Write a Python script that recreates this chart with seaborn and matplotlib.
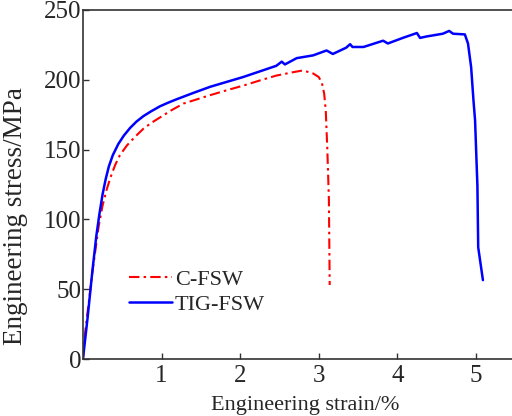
import pandas as pd
import matplotlib
matplotlib.use("Agg")
import matplotlib.pyplot as plt
import seaborn as sns

# C-FSW curve (strain %, stress MPa)
cfsw_strain = [0, 0.03, 0.12, 0.20, 0.25, 0.30, 0.35, 0.41, 0.47, 0.56, 0.66, 0.77, 0.88, 0.98,
               1.12, 1.28, 1.45, 1.62, 1.83, 2.05, 2.25, 2.46, 2.68, 2.80, 2.93, 3.00, 3.04,
               3.07, 3.09, 3.11, 3.13, 3.14]
cfsw_stress = [0, 20, 62, 95, 110, 121, 130, 139, 146, 153, 159, 165, 169.5, 173,
               178, 183, 186, 189, 192.5, 196, 199.5, 203, 205.5, 206.7, 204.5, 202, 198,
               190, 178, 150, 114, 53]

# TIG-FSW curve
tig_strain = [0, 0.06, 0.12, 0.17, 0.21, 0.25, 0.29, 0.33, 0.38, 0.45, 0.52, 0.60, 0.68, 0.77,
              0.87, 0.98, 1.08, 1.19, 1.40, 1.62, 1.83, 2.04, 2.25, 2.46, 2.53, 2.57, 2.72,
              2.93, 3.10, 3.18, 3.35, 3.40, 3.43, 3.57, 3.82, 3.88, 4.07, 4.25, 4.29, 4.37,
              4.58, 4.66, 4.71, 4.86, 4.90, 4.94, 4.97, 4.99, 5.02, 5.02, 5.03, 5.09]
tig_stress = [0, 30, 63, 88, 104, 118, 129, 138, 146, 154, 160, 165.5, 170, 174,
              177.5, 181, 183.5, 186, 190.5, 195, 198.5, 202, 206, 210, 213, 211, 215.5,
              217.5, 221, 218.5, 223, 225.5, 223.5, 223.5, 228, 226, 230, 233.5, 230, 231,
              233, 235, 233, 232.5, 226, 209, 185, 171, 133, 114, 80, 56.5]

cfsw = pd.DataFrame({"strain": cfsw_strain, "stress": cfsw_stress})
tig = pd.DataFrame({"strain": tig_strain, "stress": tig_stress})

sns.set_theme(style="ticks")
plt.rcParams["font.family"] = "serif"
plt.rcParams["font.serif"] = ["Liberation Serif", "DejaVu Serif"]

fig = plt.figure(figsize=(5.12, 4.16), dpi=100)
ax = fig.add_axes([0.162, 0.137, 0.838, 0.839])

sns.lineplot(data=cfsw, x="strain", y="stress", sort=False, color="#ff0000", lw=1.5,
             linestyle=(0, (5, 2, 1.2, 2)), label="C-FSW", ax=ax)
sns.lineplot(data=tig, x="strain", y="stress", sort=False, color="#0000ff", lw=1.8,
             label="TIG-FSW", ax=ax)

ax.set_xlim(0, 5.46)
ax.set_ylim(0, 250)
ax.set_xticks([1, 2, 3, 4, 5])
ax.set_yticks([0, 50, 100, 150, 200, 250])
ax.tick_params(axis="x", direction="in", length=4, width=1, labelsize=18, pad=4, color="#333333")
ax.tick_params(axis="y", direction="in", length=4, width=1, labelsize=18, pad=1, color="#333333")
ax.spines["right"].set_visible(False)
for s in ["left", "bottom", "top"]:
    ax.spines[s].set_color("#333333")
    ax.spines[s].set_linewidth(1.2)

ax.set_xlabel("Engineering strain/%", fontsize=16)
ax.set_ylabel("Engineering stress/MPa", fontsize=19.5)
ax.xaxis.set_label_coords(0.517, -0.105)
ax.yaxis.set_label_coords(-0.128, 0.41)

ax.legend(loc="upper left", bbox_to_anchor=(0.108, 0.258), frameon=False, fontsize=16,
          handlelength=1.9, handletextpad=0.15, labelspacing=0.2, borderpad=0,
          borderaxespad=0)

fig.savefig("out.png", dpi=100)
